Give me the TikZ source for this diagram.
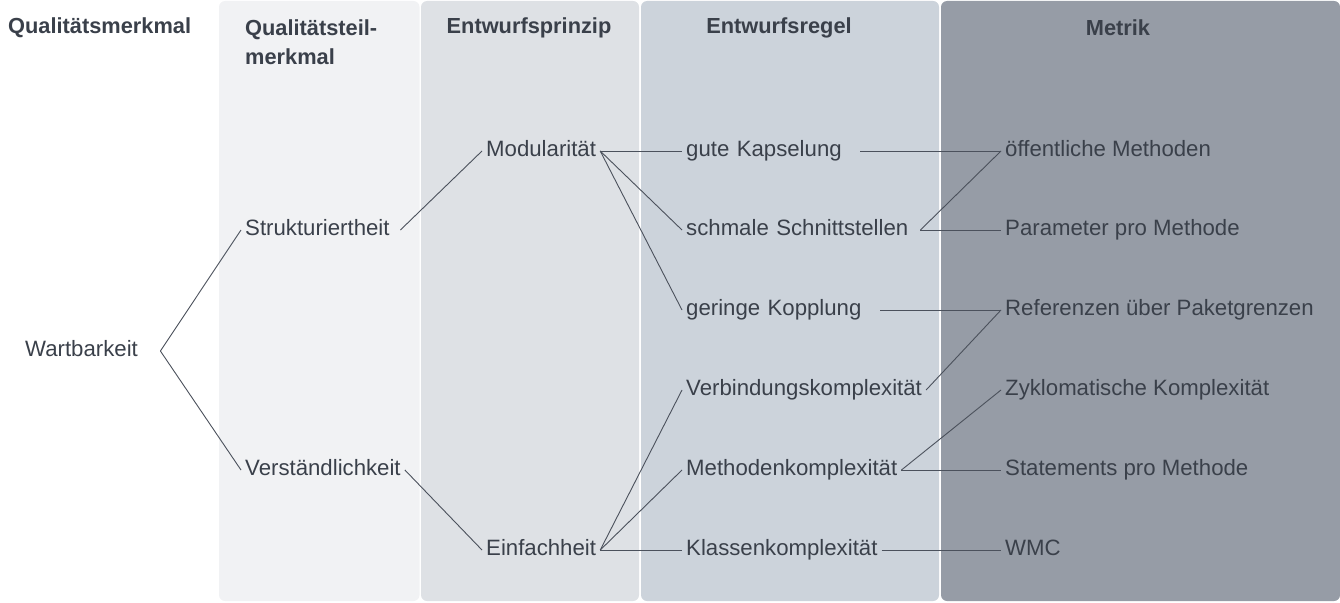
\documentclass[tikz,border=0pt]{standalone}
\usepackage{fontspec}
\setmainfont{Liberation Sans}
\definecolor{ink}{HTML}{3A404A}
\definecolor{wire}{HTML}{4B515C}
\definecolor{laneA}{HTML}{F1F2F4}
\definecolor{laneB}{HTML}{DEE1E5}
\definecolor{laneC}{HTML}{CCD3DB}
\definecolor{laneD}{HTML}{969CA6}
\tikzset{
    every node/.append style={text=ink},
    lane/.style={rounded corners=6pt},
    head/.style={font=\fontsize{21.8}{29}\selectfont\bfseries,inner sep=4pt},
    item/.style={font=\fontsize{22.2}{26}\selectfont,inner sep=4pt,text height=16pt,
        text depth=5pt,anchor=west},
    wide/.style={text width=#1,align=left},
    link/.style={draw=wire,line width=0.9pt}
}
\begin{document}
\begin{tikzpicture}[x=1pt,y=-1pt]
    \useasboundingbox (0,0) rectangle (1340,602);
    % column bands
    \fill[lane,fill=laneA] (219,1) rectangle (419.5,601);
    \fill[lane,fill=laneB] (421,1) rectangle (639,601);
    \fill[lane,fill=laneC] (641,1) rectangle (939,601);
    \fill[lane,fill=laneD] (941,1) rectangle (1340,601);

    % headers
    \node[head,anchor=west]            (hQual) at (4,28)     {Qualitätsmerkmal};
    \node[head,anchor=west,align=left] (hTeil) at (241,42.5) {Qualitätsteil-\\merkmal};
    \node[head]                        (hPrin) at (529,28)   {Entwurfsprinzip};
    \node[head]                        (hRegel) at (779,28)  {Entwurfsregel};
    \node[head]                        (hMetr) at (1118,28)  {Metrik};

    % quality tree
    \node[item,wide=131pt] (wart)   at (21,351)  {Wartbarkeit};
    \node[item,wide=151pt] (strukt) at (241,230) {Strukturiertheit};
    \node[item]            (verst)  at (241,470) {Verständlichkeit};
    \node[item]            (modul)  at (482,151) {Modularität};
    \node[item]            (einf)   at (482,550) {Einfachheit};
    % design rules
    \node[item,wide=170pt] (kaps)   at (682,151) {gute Kapselung};
    \node[item,wide=230pt] (schm)   at (682,230) {schmale Schnittstellen};
    \node[item,wide=190pt] (kopp)   at (682,310) {geringe Kopplung};
    \node[item]            (verb)   at (682,390) {Verbindungskomplexität};
    \node[item]            (meth)   at (682,470) {Methodenkomplexität};
    \node[item]            (klas)   at (682,550) {Klassenkomplexität};
    % metrics
    \node[item] (oeff)  at (1001,151) {öffentliche Methoden};
    \node[item] (param) at (1001,230) {Parameter pro Methode};
    \node[item] (refer) at (1001,310) {Referenzen über Paketgrenzen};
    \node[item] (zykl)  at (1001,390) {Zyklomatische Komplexität};
    \node[item] (stmt)  at (1001,470) {Statements pro Methode};
    \node[item] (wmc)   at (1001,550) {WMC};

    \draw[link] (wart.east) -- (strukt.west);
    \draw[link] (wart.east) -- (verst.west);
    \draw[link] (strukt.east) -- (modul.west);
    \draw[link] (verst.east) -- (einf.west);

    \draw[link] (modul.east) -- (kaps.west);
    \draw[link] (modul.east) -- (schm.west);
    \draw[link] (modul.east) -- (kopp.west);
    \draw[link] (einf.east) -- (verb.west);
    \draw[link] (einf.east) -- (meth.west);
    \draw[link] (einf.east) -- (klas.west);

    \draw[link] (kaps.east) -- (oeff.west);
    \draw[link] (schm.east) -- (oeff.west);
    \draw[link] (schm.east) -- (param.west);
    \draw[link] (kopp.east) -- (refer.west);
    \draw[link] (verb.east) -- (refer.west);
    \draw[link] (meth.east) -- (zykl.west);
    \draw[link] (meth.east) -- (stmt.west);
    \draw[link] (klas.east) -- (wmc.west);
\end{tikzpicture}
\end{document}
